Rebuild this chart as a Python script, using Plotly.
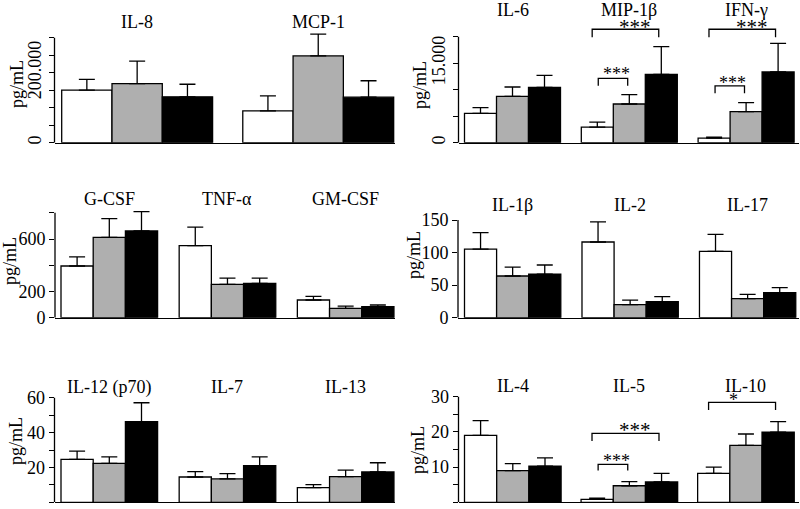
import plotly.graph_objects as go

W, H = 800, 509
FONT = "Liberation Serif, Times New Roman, serif"
GRAY = "#AFAFAF"
LW = 1.3

# ------------------------------------------------------------------ data
p1_labels = ["IL-8", "MCP-1"]
p1_white = [150000, 91000]
p1_white_se = [31000, 43000]
p1_gray = [169000, 248000]
p1_gray_se = [64000, 62000]
p1_black = [131000, 130000]
p1_black_se = [36000, 47000]
p1_tickvals = [0, 50000, 100000, 150000, 200000, 250000, 300000]
p1_ticktext = ["0", "", "", "", "200.000", "", ""]

p2_labels = ["IL-6", "MIP-1β", "IFN-γ"]
p2_white = [5550, 2960, 880]
p2_white_se = [1070, 940, 190]
p2_gray = [8760, 7310, 5860]
p2_gray_se = [1760, 1760, 1700]
p2_black = [10460, 12920, 13360]
p2_black_se = [2270, 5220, 5410]
p2_tickvals = [0, 5000, 10000, 15000, 20000]
p2_ticktext = ["0", "", "", "15.000", ""]

p3_labels = ["G-CSF", "TNF-α", "GM-CSF"]
p3_white = [394, 549, 135]
p3_white_se = [69, 142, 28]
p3_gray = [613, 254, 71]
p3_gray_se = [142, 48, 18]
p3_black = [661, 262, 84]
p3_black_se = [147, 40, 13]
p3_tickvals = [0, 200, 400, 600, 800]
p3_ticktext = ["0", "200", "", "600", ""]

p4_labels = ["IL-1β", "IL-2", "IL-17"]
p4_white = [105.4, 116.2, 101.9]
p4_white_se = [25.1, 30.8, 26.1]
p4_gray = [64.0, 20.0, 29.2]
p4_gray_se = [13.8, 7.0, 6.6]
p4_black = [67.0, 24.6, 38.4]
p4_black_se = [13.9, 7.7, 7.7]
p4_tickvals = [0, 50, 100, 150]
p4_ticktext = ["0", "50", "100", "150"]

p5_labels = ["IL-12 (p70)", "IL-7", "IL-13"]
p5_white = [24.6, 14.5, 8.4]
p5_white_se = [4.8, 3.1, 1.7]
p5_gray = [22.3, 13.4, 14.7]
p5_gray_se = [3.7, 3.0, 3.8]
p5_black = [46.2, 21.0, 17.4]
p5_black_se = [10.9, 5.0, 5.3]
p5_tickvals = [0, 10, 20, 30, 40, 50, 60]
p5_ticktext = ["0", "", "20", "", "40", "", "60"]

p6_labels = ["IL-4", "IL-5", "IL-10"]
p6_white = [19.0, 0.85, 8.2]
p6_white_se = [4.2, 0.35, 1.8]
p6_gray = [9.0, 4.7, 16.2]
p6_gray_se = [2.0, 1.2, 3.2]
p6_black = [10.3, 5.8, 19.9]
p6_black_se = [2.3, 2.4, 3.0]
p6_tickvals = [0, 5, 10, 15, 20, 25, 30]
p6_ticktext = ["0", "", "10", "", "20", "", "30"]

# significance brackets: (group, bar_from, bar_to, leg_y, top_y, text, text_y)
p2_brackets = [
    (1, 0, 2, 19920, 21430, "***", 21950),
    (1, 0, 1, 10770, 12170, "***", 12940),
    (2, 0, 2, 19920, 21430, "***", 21950),
    (2, 0, 1, 9340, 10720, "***", 11370),
]
p6_brackets = [
    (1, 0, 2, 17.4, 19.6, "***", 20.4),
    (1, 0, 1, 9.0, 10.8, "***", 11.8),
    (2, 0, 2, 26.2, 28.4, "*", 29.1),
]

# ------------------------------------------------------------------ layout geometry (pixels)
panels = [
    dict(labels=p1_labels, w=p1_white, ws=p1_white_se, g=p1_gray, gs=p1_gray_se,
         b=p1_black, bs=p1_black_se, tv=p1_tickvals, tt=p1_ticktext, br=[],
         axis_px=54.5, first_left=61.7, bw=50.3, gap=0.6, right_px=395,
         base=142.7, scale=70 / 200000, top=18, title_px=21.5, ylab=(17, 84), tickangle=-90),
    dict(labels=p2_labels, w=p2_white, ws=p2_white_se, g=p2_gray, gs=p2_gray_se,
         b=p2_black, bs=p2_black_se, tv=p2_tickvals, tt=p2_ticktext, br=p2_brackets,
         axis_px=458.5, first_left=464.5, bw=32.0, gap=0.65, right_px=798.5,
         base=142.7, scale=79.4 / 15000, top=18, title_px=10, ylab=(420, 85), tickangle=-90),
    dict(labels=p3_labels, w=p3_white, ws=p3_white_se, g=p3_gray, gs=p3_gray_se,
         b=p3_black, bs=p3_black_se, tv=p3_tickvals, tt=p3_ticktext, br=[],
         axis_px=55, first_left=61, bw=32.2, gap=0.67, right_px=395,
         base=317.7, scale=78.7 / 600, top=195, title_px=199, ylab=(10, 261), tickangle=0),
    dict(labels=p4_labels, w=p4_white, ws=p4_white_se, g=p4_gray, gs=p4_gray_se,
         b=p4_black, bs=p4_black_se, tv=p4_tickvals, tt=p4_ticktext, br=[],
         axis_px=458, first_left=464.5, bw=32.1, gap=0.66, right_px=798.5,
         base=317.7, scale=97.7 / 150, top=195, title_px=205, ylab=(414, 255), tickangle=0),
    dict(labels=p5_labels, w=p5_white, ws=p5_white_se, g=p5_gray, gs=p5_gray_se,
         b=p5_black, bs=p5_black_se, tv=p5_tickvals, tt=p5_ticktext, br=[],
         axis_px=54.5, first_left=61, bw=32.2, gap=0.67, right_px=395,
         base=502.3, scale=104.6 / 60, top=385, title_px=387, ylab=(16, 441), tickangle=0),
    dict(labels=p6_labels, w=p6_white, ws=p6_white_se, g=p6_gray, gs=p6_gray_se,
         b=p6_black, bs=p6_black_se, tv=p6_tickvals, tt=p6_ticktext, br=p6_brackets,
         axis_px=458.5, first_left=464.5, bw=32.2, gap=0.62, right_px=798.5,
         base=502.3, scale=105.6 / 30, top=385, title_px=386, ylab=(418, 450), tickangle=0),
]

BIG_OFF = (-0.16, -0.08)
SMALL_OFF = (0.03, -0.05)

fig = go.Figure()
layout = dict(template="none", width=W, height=H, margin=dict(l=0, r=0, t=0, b=0, pad=0),
              autosize=False,
              plot_bgcolor="white", paper_bgcolor="white", showlegend=False,
              barmode="overlay", font=dict(family=FONT, size=18, color="black"))
annotations = []
shapes = []

for i, p in enumerate(panels):
    n = i + 1
    xa = "x" if n == 1 else f"x{n}"
    ya = "y" if n == 1 else f"y{n}"
    xkey = "xaxis" if n == 1 else f"xaxis{n}"
    ykey = "yaxis" if n == 1 else f"yaxis{n}"
    step = 3 + p["gap"]
    ng = len(p["labels"])

    def pos(g, k, step=step):
        return g * step + k

    for k, (vals, se, col) in enumerate([(p["w"], p["ws"], "white"),
                                         (p["g"], p["gs"], GRAY),
                                         (p["b"], p["bs"], "black")]):
        fig.add_trace(go.Bar(
            x=[pos(g, k) for g in range(ng)], y=vals, width=1.0,
            marker=dict(color=col, line=dict(color="black", width=LW)),
            error_y=dict(type="data", symmetric=False, array=se,
                         arrayminus=[0] * ng, color="black", thickness=LW, width=8),
            xaxis=xa, yaxis=ya, hoverinfo="skip"))

    xr0 = -0.5 + (p["axis_px"] - p["first_left"]) / p["bw"]
    xr1 = -0.5 + (p["right_px"] - p["first_left"]) / p["bw"]
    layout[xkey] = dict(domain=[p["axis_px"] / W, p["right_px"] / W], range=[xr0, xr1],
                        anchor=ya, showline=True, linecolor="black", linewidth=LW,
                        showticklabels=False, ticks="", showgrid=False, zeroline=False,
                        automargin=False, fixedrange=True)
    ytop = (p["base"] - p["top"]) / p["scale"]
    layout[ykey] = dict(domain=[1 - p["base"] / H, 1 - p["top"] / H], range=[0, ytop],
                        anchor=xa, showline=False, showgrid=False, zeroline=False,
                        tickmode="array", tickvals=p["tv"], ticktext=p["tt"],
                        ticks="outside", ticklen=5, tickwidth=LW, tickcolor="black",
                        tickangle=p["tickangle"], automargin=False,
                        tickfont=dict(family=FONT, size=18, color="black"),
                        fixedrange=True)
    # y axis line from 0 to the last tick
    shapes.append(dict(type="line", xref=f"{xa} domain", yref=ya, x0=0, x1=0,
                       y0=0, y1=p["tv"][-1], line=dict(color="black", width=LW)))
    # group titles
    for g, lab in enumerate(p["labels"]):
        annotations.append(dict(text=lab, x=pos(g, 1), xref=xa, y=1 - p["title_px"] / H,
                                yref="paper", showarrow=False, xanchor="center",
                                yanchor="middle", font=dict(family=FONT, size=18)))
    # y axis title
    annotations.append(dict(text="pg/mL", x=p["ylab"][0] / W, y=1 - p["ylab"][1] / H,
                            xref="paper", yref="paper", showarrow=False, textangle=-90,
                            xanchor="center", yanchor="middle",
                            font=dict(family=FONT, size=18)))
    # significance brackets
    for (g, b0, b1, yl, yt, txt, ty) in p["br"]:
        big = b1 - b0 == 2
        off = BIG_OFF if big else SMALL_OFF
        x0 = pos(g, b0) + off[0]
        x1 = pos(g, b1) + off[1]
        shapes.append(dict(type="path", xref=xa, yref=ya,
                           path=f"M {x0},{yl} L {x0},{yt} L {x1},{yt} L {x1},{yl}",
                           line=dict(color="black", width=LW)))
        if big:
            tx = pos(g, 1) + (0.17 if len(txt) > 1 else -0.39)
        else:
            tx = pos(g, 0) + 0.59
        fs = 21 if (big and len(txt) > 1) else 18
        annotations.append(dict(text=txt, x=tx, y=ty, xref=xa, yref=ya, showarrow=False,
                                xanchor="center", yanchor="middle",
                                font=dict(family=FONT, size=fs)))

layout["annotations"] = annotations
layout["shapes"] = shapes
fig.update_layout(**layout)
fig.write_html("out.html", config={"displayModeBar": False},
               post_script="document.body.style.margin='0';document.body.style.overflow='hidden';")
